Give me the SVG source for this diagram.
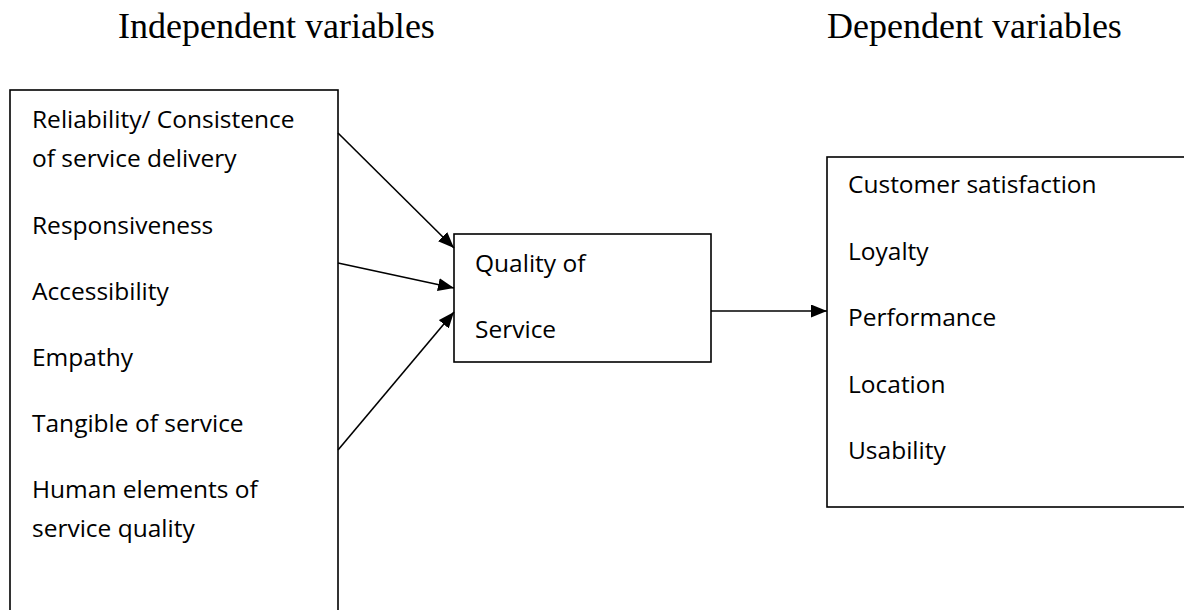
<svg xmlns="http://www.w3.org/2000/svg" width="1184" height="610" viewBox="0 0 1184 610">
<style>
.title{font-family:"Liberation Serif","Times New Roman",serif;font-size:36px;fill:#000}
.lbl{font-family:"Open Sans","Noto Sans","Liberation Sans",sans-serif;font-size:24.5px;fill:#000}
.box{fill:#fff;stroke:#000;stroke-width:1.6}
.conn{stroke:#000;stroke-width:1.6;fill:none;marker-end:url(#arrow)}
</style>
<defs>
<marker id="arrow" markerUnits="userSpaceOnUse" markerWidth="18" markerHeight="14" refX="16" refY="6.5" orient="auto">
<path d="M0,0 L16,6.5 L0,13 z" fill="#000"/>
</marker>
</defs>
<rect width="1184" height="610" fill="#fff"/>
<g id="titles">
<text class="title" x="118" y="38">Independent variables</text>
<text class="title" x="827" y="38">Dependent variables</text>
</g>
<g id="independent">
<rect class="box" x="10" y="90" width="328" height="540"/>
<text class="lbl" x="32" y="128">Reliability/ Consistence</text>
<text class="lbl" x="32" y="167">of service delivery</text>
<text class="lbl" x="32" y="234">Responsiveness</text>
<text class="lbl" x="32" y="300">Accessibility</text>
<text class="lbl" x="32" y="366">Empathy</text>
<text class="lbl" x="32" y="432">Tangible of service</text>
<text class="lbl" x="32" y="498">Human elements of</text>
<text class="lbl" x="32" y="537">service quality</text>
</g>
<g id="quality">
<rect class="box" x="454" y="234" width="257" height="128"/>
<text class="lbl" x="475" y="272">Quality of</text>
<text class="lbl" x="475" y="338">Service</text>
</g>
<g id="dependent">
<rect class="box" x="827" y="157" width="420" height="350"/>
<text class="lbl" x="848" y="193">Customer satisfaction</text>
<text class="lbl" x="848" y="260">Loyalty</text>
<text class="lbl" x="848" y="326">Performance</text>
<text class="lbl" x="848" y="393">Location</text>
<text class="lbl" x="848" y="459">Usability</text>
</g>
<g id="connectors">
<line class="conn" x1="338" y1="133" x2="454" y2="248"/>
<line class="conn" x1="338" y1="263" x2="454" y2="288"/>
<line class="conn" x1="338" y1="450" x2="454" y2="312"/>
<line class="conn" x1="711" y1="311" x2="827" y2="311"/>
</g>
</svg>
